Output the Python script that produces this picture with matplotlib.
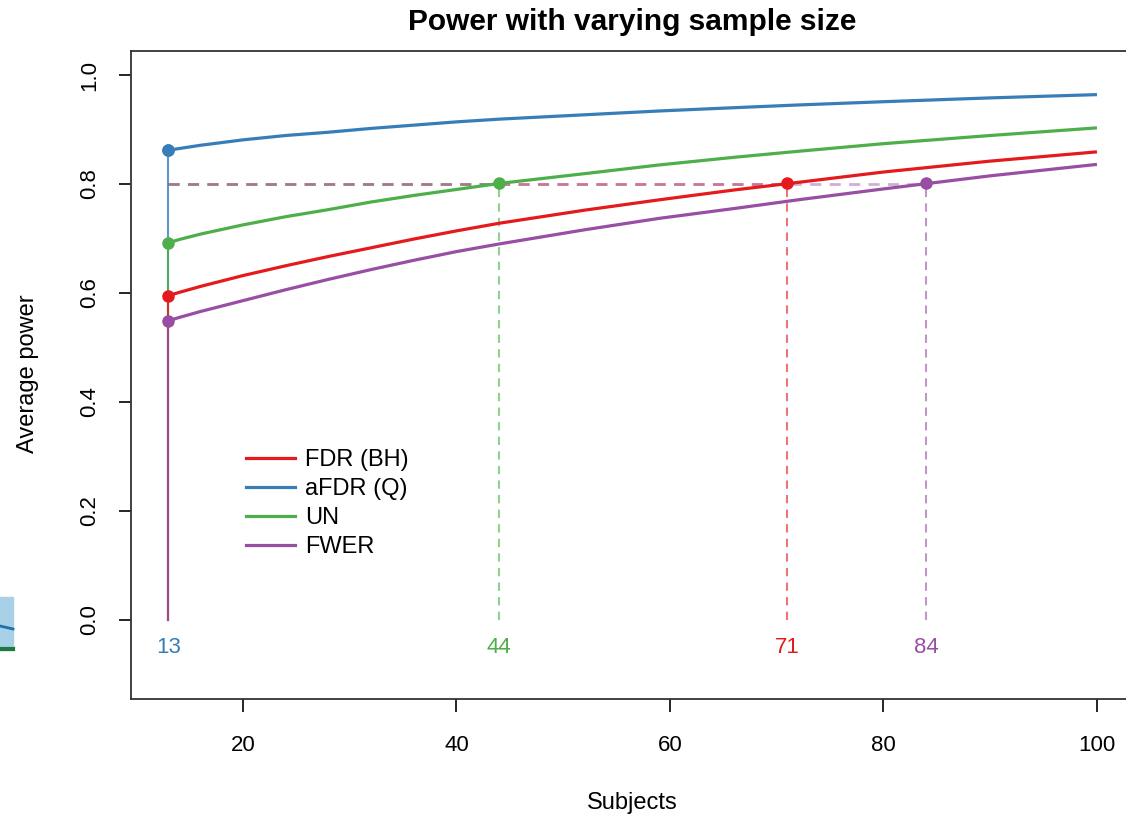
import matplotlib

matplotlib.use("Agg")
import matplotlib.pyplot as plt
from matplotlib.lines import Line2D
from matplotlib.patches import Rectangle

plt.rcParams["font.family"] = ["Liberation Sans", "DejaVu Sans"]

subjects = [13, 14, 16, 20, 24, 28, 32, 36, 40, 44, 52, 59, 66, 72, 80, 90, 100]

power_fdr = [0.595, 0.601, 0.612, 0.632, 0.650, 0.667, 0.683, 0.699, 0.714, 0.728,
             0.752, 0.771, 0.789, 0.803, 0.822, 0.842, 0.859]
power_afdr = [0.862, 0.865, 0.871, 0.881, 0.889, 0.895, 0.902, 0.908, 0.914, 0.919,
              0.927, 0.934, 0.940, 0.945, 0.951, 0.958, 0.964]
power_un = [0.692, 0.698, 0.708, 0.725, 0.740, 0.753, 0.767, 0.779, 0.790, 0.801,
            0.819, 0.835, 0.849, 0.860, 0.874, 0.889, 0.903]
power_fwer = [0.549, 0.555, 0.566, 0.586, 0.606, 0.625, 0.643, 0.660, 0.676, 0.690,
              0.716, 0.737, 0.755, 0.771, 0.791, 0.815, 0.836]

labels = ["FDR (BH)", "aFDR (Q)", "UN", "FWER"]
colors = ["#E41A1C", "#377EB8", "#4DAF4A", "#984EA3"]
series = [power_fdr, power_afdr, power_un, power_fwer]

# subjects needed to reach the target power for each method
target = 0.8
needed = [71, 13, 44, 84]
power_at_needed = [0.801, 0.862, 0.801, 0.801]

x_ticks = [20, 40, 60, 80, 100]
y_ticks = [0.0, 0.2, 0.4, 0.6, 0.8, 1.0]

fig = plt.figure(figsize=(11.26, 8.15), dpi=100)
ax = fig.add_axes([0.1164, 0.1429, 0.8908, 0.7945])

# curves
for vals, col in zip(series, colors):
    ax.plot(subjects, vals, color=col, lw=2.3, solid_capstyle="butt", zorder=3)

# solid vertical segments at the smallest sample size
for vals, col in zip([power_afdr, power_un, power_fdr, power_fwer],
                     [colors[1], colors[2], colors[0], colors[3]]):
    ax.plot([subjects[0], subjects[0]], [0, vals[0]], color=col, lw=1.5, alpha=0.8, zorder=2)

# dashed guides to the target power
for n, p, col in zip(needed, power_at_needed, colors):
    if n > subjects[0]:
        ax.plot([subjects[0], n], [target, target], color=col, lw=2, alpha=0.45,
                dashes=(4, 3), zorder=2)
        ax.plot([n, n], [0, target], color=col, lw=1.5, alpha=0.6, dashes=(4, 3), zorder=2)
    ax.text(n, -0.05, str(n), color=col, ha="center", va="center", fontsize=16)

# points
for vals, col in zip(series, colors):
    ax.plot(subjects[0], vals[0], "o", color=col, ms=8, zorder=4)
for n, p, col in zip(needed, power_at_needed, colors):
    ax.plot(n, p, "o", color=col, ms=8, zorder=4)

ax.set_xlim(9.52, 103.48)
ax.set_ylim(-0.144, 1.044)
ax.set_xticks(x_ticks)
ax.set_yticks(y_ticks)
ax.set_xticklabels([str(t) for t in x_ticks])
ax.set_yticklabels([f"{t:.1f}" for t in y_ticks], rotation=90, va="center")
ax.tick_params(axis="both", direction="out", length=9, width=1.2, labelsize=16, colors="black")
ax.tick_params(axis="x", pad=17)
ax.tick_params(axis="y", pad=13)
for sp in ax.spines.values():
    sp.set_linewidth(1.3)
    sp.set_color("#333333")

handles = [Line2D([0], [0], color=c, lw=2.3) for c in colors]
ax.legend(handles, labels, loc="upper left", bbox_to_anchor=(0.105, 0.4), frameon=False,
          fontsize=17, handlelength=2.1, handletextpad=0.4, labelspacing=0.3,
          borderaxespad=0)

fig.text(0.5617, 0.973, "Power with varying sample size", ha="center", va="center",
         fontsize=21.5, fontweight="bold")
fig.text(0.5617, 0.0147, "Subjects", ha="center", va="center", fontsize=17)
fig.text(0.0249, 0.542, "Average power", ha="center", va="center", rotation=90, fontsize=17)

# cropped fragment of a neighbouring figure at the left edge
fig.patches.append(Rectangle((0, (815 - 650) / 815), 13 / 1126, 53 / 815,
                             transform=fig.transFigure, color="#a8d1e7", zorder=0))
fig.lines.append(Line2D([0, 13 / 1126], [(815 - 626) / 815, (815 - 629) / 815],
                        transform=fig.transFigure, color="#1f6fa8", lw=2))
fig.lines.append(Line2D([0, 13 / 1126], [(815 - 649) / 815, (815 - 649) / 815],
                        transform=fig.transFigure, color="#1e7a3a", lw=3))

fig.savefig("out.png", dpi=100)
